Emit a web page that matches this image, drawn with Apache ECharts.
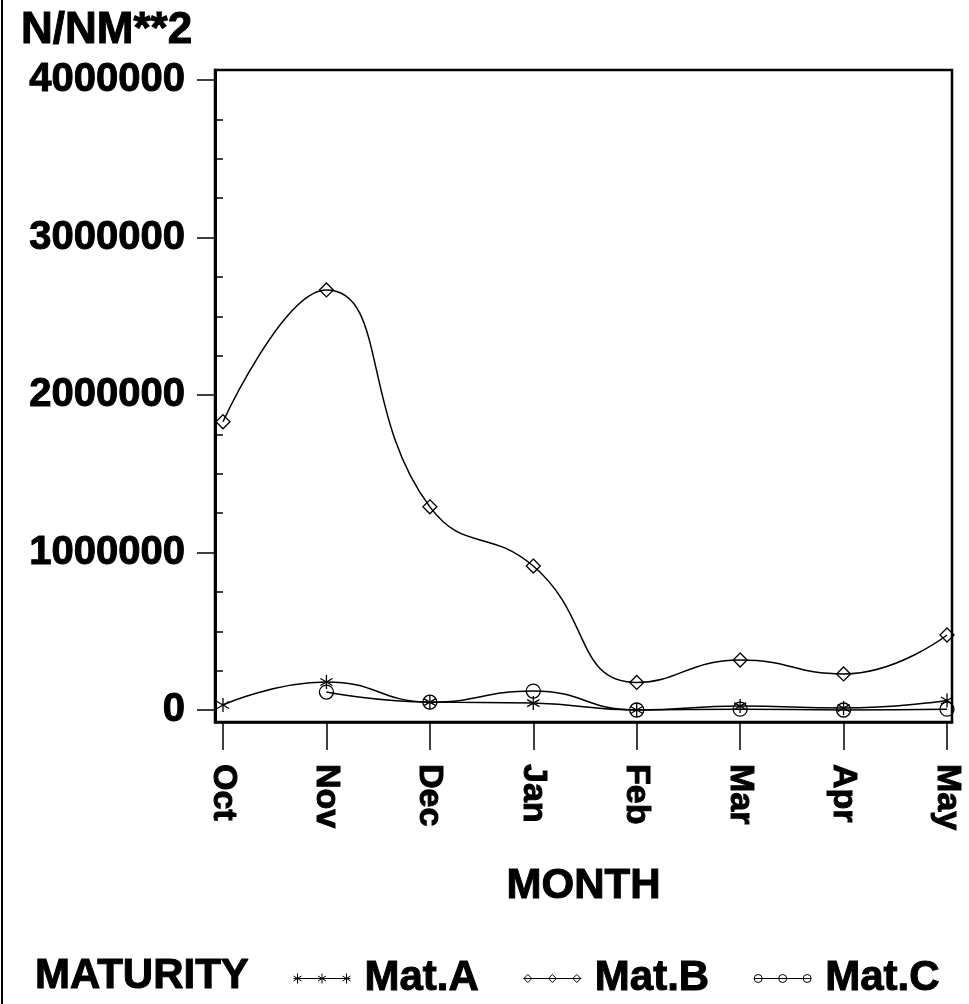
<!DOCTYPE html>
<html>
<head>
<meta charset="utf-8">
<script src="https://cdn.jsdelivr.net/npm/echarts@6/dist/echarts.min.js"></script>
<style>
  html, body { margin: 0; padding: 0; background: #fff; }
  #chart { width: 969px; height: 1004px; }
</style>
</head>
<body>
<div id="chart"></div>
<script>
// Monthly density by maturity stage
const months = ['Oct', 'Nov', 'Dec', 'Jan', 'Feb', 'Mar', 'Apr', 'May'];
const matA = [32000, 178000, 50000, 44000, 0, 25000, 12000, 60000];
const matB = [1830000, 2667000, 1290000, 914000, 175000, 317000, 229000, 476000];
const matC = [null, 114000, 50000, 120000, 0, 5000, 0, 5000];
const yTicks = [0, 1000000, 2000000, 3000000, 4000000];
const yMinorTicks = [250000, 500000, 750000, 1250000, 1500000, 1750000, 2250000, 2500000, 2750000,
                     3250000, 3500000, 3750000];

const FONT = '"Liberation Sans", Arial, Helvetica, sans-serif';
const ink = '#000';

// heavy bold type used throughout
function heavy(size) {
  return { fontFamily: FONT, fontWeight: 'bold', fontSize: size, color: ink,
           textBorderColor: ink, textBorderWidth: 1 };
}

const starPath = 'path://M0,-10L0,10M-8.7,-5L8.7,5M-8.7,5L8.7,-5';

function pairs(arr) {
  return arr.map((v, i) => [i, v]);
}

const markStyle = { color: 'rgba(0,0,0,0)', borderColor: ink, borderWidth: 1.3 };

function lineSeries(name, data, symbol, size) {
  return {
    name: name,
    type: 'line',
    data: pairs(data),
    smooth: 0.5,
    connectNulls: false,
    symbol: symbol,
    symbolSize: size,
    symbolKeepAspect: true,
    showAllSymbol: true,
    lineStyle: { color: ink, width: 1.5 },
    itemStyle: markStyle,
    emphasis: { disabled: true },
    z: 3
  };
}

// Legend icons: a short line carrying three small markers
const iconA = 'path://M0,6L57,6M4,1L4,11M0,3.5L8,8.5M0,8.5L8,3.5M28.5,1L28.5,11M24.5,3.5L32.5,8.5M24.5,8.5L32.5,3.5M53,1L53,11M49,3.5L57,8.5M49,8.5L57,3.5';
const iconB = 'path://M0,6L57,6M4,2L8,6L4,10L0,6ZM28.5,2L32.5,6L28.5,10L24.5,6ZM53,2L57,6L53,10L49,6Z';
const iconC = 'path://M0,6L57,6M0,6A4,4,0,1,0,8,6A4,4,0,1,0,0,6M24.5,6A4,4,0,1,0,32.5,6A4,4,0,1,0,24.5,6M49,6A4,4,0,1,0,57,6A4,4,0,1,0,49,6';

const chart = echarts.init(document.getElementById('chart'), null, { renderer: 'canvas' });

chart.setOption({
  animation: false,
  backgroundColor: '#fff',
  textStyle: { fontFamily: FONT },
  title: [
    { text: 'N/NM**2', left: 16, top: 4, textStyle: heavy(44) },
    { text: 'MATURITY', left: 30, top: 950, textStyle: heavy(42) }
  ],
  legend: {
    left: 288, top: 952,
    itemWidth: 57, itemHeight: 12, itemGap: 44,
    selectedMode: false,
    textStyle: Object.assign(heavy(42), { padding: [0, 0, 0, 9] }),
    data: [
      { name: 'Mat.A', icon: iconA, itemStyle: { color: 'rgba(0,0,0,0)', borderColor: ink, borderWidth: 1 } },
      { name: 'Mat.B', icon: iconB, itemStyle: { color: 'rgba(0,0,0,0)', borderColor: ink, borderWidth: 1 } },
      { name: 'Mat.C', icon: iconC, itemStyle: { color: 'rgba(0,0,0,0)', borderColor: ink, borderWidth: 1 } }
    ]
  },
  grid: {
    left: 215, right: 17, top: 70, bottom: 282,
    show: true, borderColor: ink, borderWidth: 2.5, backgroundColor: 'transparent'
  },
  xAxis: {
    type: 'value',
    min: -0.0773, max: 7.0483,
    name: 'MONTH',
    nameLocation: 'middle',
    nameGap: 143,
    nameTextStyle: heavy(42),
    splitLine: { show: false },
    axisLine: { show: true, onZero: false, lineStyle: { color: ink, width: 2.5 } },
    axisTick: { show: true, length: 28, customValues: months.map((m, i) => i), lineStyle: { color: ink, width: 1.5 } },
    axisLabel: Object.assign(heavy(34), {
      customValues: months.map((m, i) => i),
      formatter: v => months[Math.round(v)],
      rotate: -90,
      margin: 42
    })
  },
  yAxis: [
    {
      type: 'value',
      min: -76190, max: 4063492,
      position: 'left',
      splitLine: { show: false },
      axisLine: { show: true, onZero: false, lineStyle: { color: ink, width: 3 } },
      axisTick: { show: true, length: 18, customValues: yTicks, lineStyle: { color: ink, width: 1.5 } },
      axisLabel: Object.assign(heavy(40), {
        customValues: yTicks,
        formatter: v => String(v),
        margin: 30
      })
    },
    {
      type: 'value',
      min: -76190, max: 4063492,
      position: 'left',
      splitLine: { show: false },
      axisLine: { show: false },
      axisTick: { show: true, length: 7, customValues: yMinorTicks, lineStyle: { color: ink, width: 1.5 } },
      axisLabel: { show: false }
    }
  ],
  graphic: [
    { type: 'line', shape: { x1: 2, y1: 0, x2: 2, y2: 1004 }, style: { stroke: ink, lineWidth: 2 } }
  ],
  series: [
    lineSeries('Mat.A', matA, starPath, 14),
    lineSeries('Mat.B', matB, 'diamond', 14),
    lineSeries('Mat.C', matC, 'circle', 14)
  ]
});
</script>
</body>
</html>
